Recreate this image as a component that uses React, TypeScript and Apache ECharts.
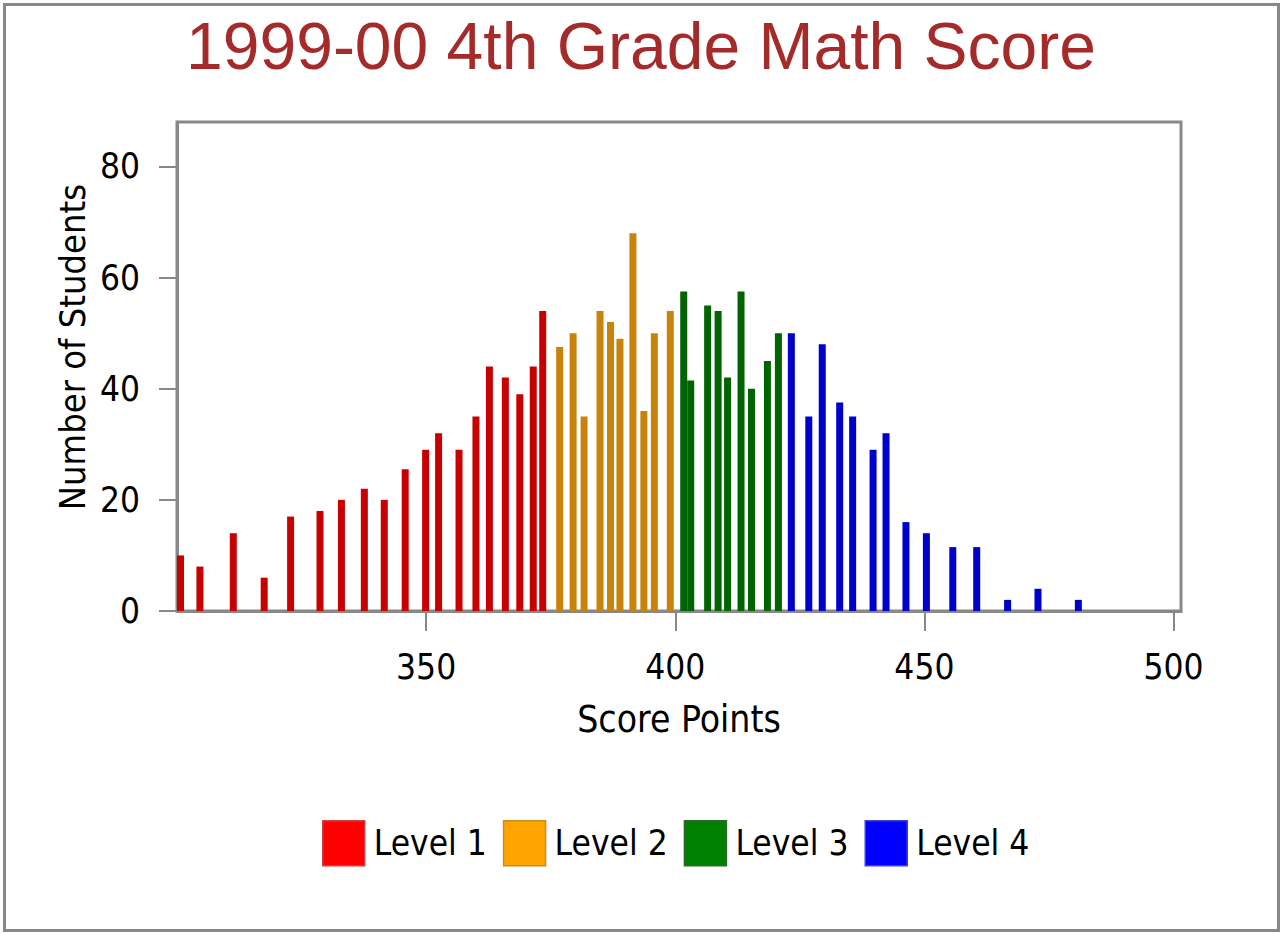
import React, { useEffect, useRef } from "react";
import * as echarts from "echarts";

const TITLE = "1999-00 4th Grade Math Score";
const X_NAME = "Score Points";
const Y_NAME = "Number of Students";
const LEVEL_NAMES = ["Level 1", "Level 2", "Level 3", "Level 4"];
const X_TICKS = [350, 400, 450, 500];
const Y_TICKS = [0, 20, 40, 60, 80];

const level1Scores = [300.7, 304.6, 311.3, 317.5, 322.8, 328.7, 333.0, 337.6, 341.6, 345.8, 349.9, 352.5, 356.6, 360.0, 362.7, 365.9, 368.8, 371.5, 373.4];
const level1Counts = [10, 8, 14, 6, 17, 18, 20, 22, 20, 25.5, 29, 32, 29, 35, 44, 42, 39, 44, 54];

const level2Scores = [376.8, 379.5, 381.7, 384.9, 387.0, 388.9, 391.5, 393.7, 395.8, 399.0];
const level2Counts = [47.5, 50, 35, 54, 52, 49, 68, 36, 50, 54];

const level3Scores = [401.7, 403.1, 406.5, 408.6, 410.5, 413.2, 415.3, 418.5, 420.7];
const level3Counts = [57.5, 41.5, 55, 54, 42, 57.5, 40, 45, 50];

const level4Scores = [423.3, 426.8, 429.5, 433.0, 435.6, 439.7, 442.3, 446.3, 450.4, 455.7, 460.5, 466.7, 472.8, 480.9];
const level4Counts = [50, 35, 48, 37.5, 35, 29, 32, 16, 14, 11.5, 11.5, 2, 4, 2];

const BAR_COLORS = ["#C80000", "#C8840A", "#006400", "#0000CC"];
const LEGEND_COLORS = ["#FF0000", "#FFA500", "#008000", "#0000FF"];
const LEGEND_BORDERS = ["#D04040", "#C88A20", "#2A6A2A", "#4040D0"];

const NARROW = '"Liberation Sans Narrow", "DejaVu Sans Condensed", "Liberation Sans", sans-serif';

export default function App() {
  const ref = useRef<HTMLDivElement>(null);

  useEffect(() => {
    if (!ref.current) return;
    const chart = echarts.init(ref.current, undefined, { renderer: "svg" });
    const levels = [
      [level1Scores, level1Counts],
      [level2Scores, level2Counts],
      [level3Scores, level3Counts],
      [level4Scores, level4Counts],
    ];
    const series = levels.map(([xs, ys], i) => ({
      name: LEVEL_NAMES[i],
      type: "bar",
      barWidth: 7,
      barGap: "-100%",
      itemStyle: { color: BAR_COLORS[i] },
      data: xs.map((x, k) => [x, ys[k]]),
    }));

    chart.setOption({
      animation: false,
      backgroundColor: "#fff",
      title: {
        text: TITLE,
        left: "center",
        top: 8,
        textStyle: {
          color: "#A52A2A",
          fontSize: 66,
          fontWeight: "normal",
          fontFamily: '"Liberation Sans", Arial, sans-serif',
        },
      },
      legend: {
        left: 322,
        top: 820,
        padding: 0,
        itemWidth: 42,
        itemHeight: 45,
        itemGap: 16,
        icon: "rect",
        textStyle: { fontSize: 35, color: "#000", fontFamily: NARROW, padding: [0, 0, 0, 4] },
        data: LEVEL_NAMES.map((n, i) => ({
          name: n,
          itemStyle: { color: LEGEND_COLORS[i], borderColor: LEGEND_BORDERS[i], borderWidth: 1.5 },
        })),
      },
      grid: {
        left: 177,
        top: 122,
        right: 101,
        bottom: 322,
        show: true,
        borderColor: "#888",
        borderWidth: 3,
        containLabel: false,
      },
      xAxis: {
        type: "value",
        min: 300,
        max: 501.5,
        name: X_NAME,
        nameLocation: "middle",
        nameGap: 90,
        nameTextStyle: { fontSize: 37, color: "#000", fontFamily: NARROW },
        axisLine: { show: true, lineStyle: { color: "#888", width: 3 } },
        axisTick: { show: true, length: 20, lineStyle: { color: "#888", width: 2 }, customValues: X_TICKS },
        axisLabel: { customValues: X_TICKS, margin: 38, fontSize: 35, color: "#000", fontFamily: NARROW },
        splitLine: { show: false },
      },
      yAxis: {
        type: "value",
        min: 0,
        max: 88,
        axisLine: { show: true, lineStyle: { color: "#888", width: 3 } },
        axisTick: { show: true, length: 18, lineStyle: { color: "#888", width: 2 }, customValues: Y_TICKS },
        axisLabel: { customValues: Y_TICKS, margin: 37, fontSize: 35, color: "#000", fontFamily: NARROW },
        splitLine: { show: false },
      },
      graphic: [
        {
          type: "rect",
          shape: { x: 4.5, y: 4.5, width: 1274, height: 926 },
          style: { fill: "none", stroke: "#888", lineWidth: 3 },
          silent: true,
          z: -1,
        },
        {
          type: "text",
          x: 72,
          y: 347,
          rotation: Math.PI / 2,
          style: {
            text: Y_NAME,
            fontSize: 36,
            fontFamily: NARROW,
            fill: "#000",
            align: "center",
            verticalAlign: "middle",
          },
        },
      ],
      series,
    });
    return () => chart.dispose();
  }, []);

  return (
    <div
      ref={ref}
      style={{ position: "absolute", left: 0, top: 0, width: 1282, height: 933, background: "#fff" }}
    />
  );
}
